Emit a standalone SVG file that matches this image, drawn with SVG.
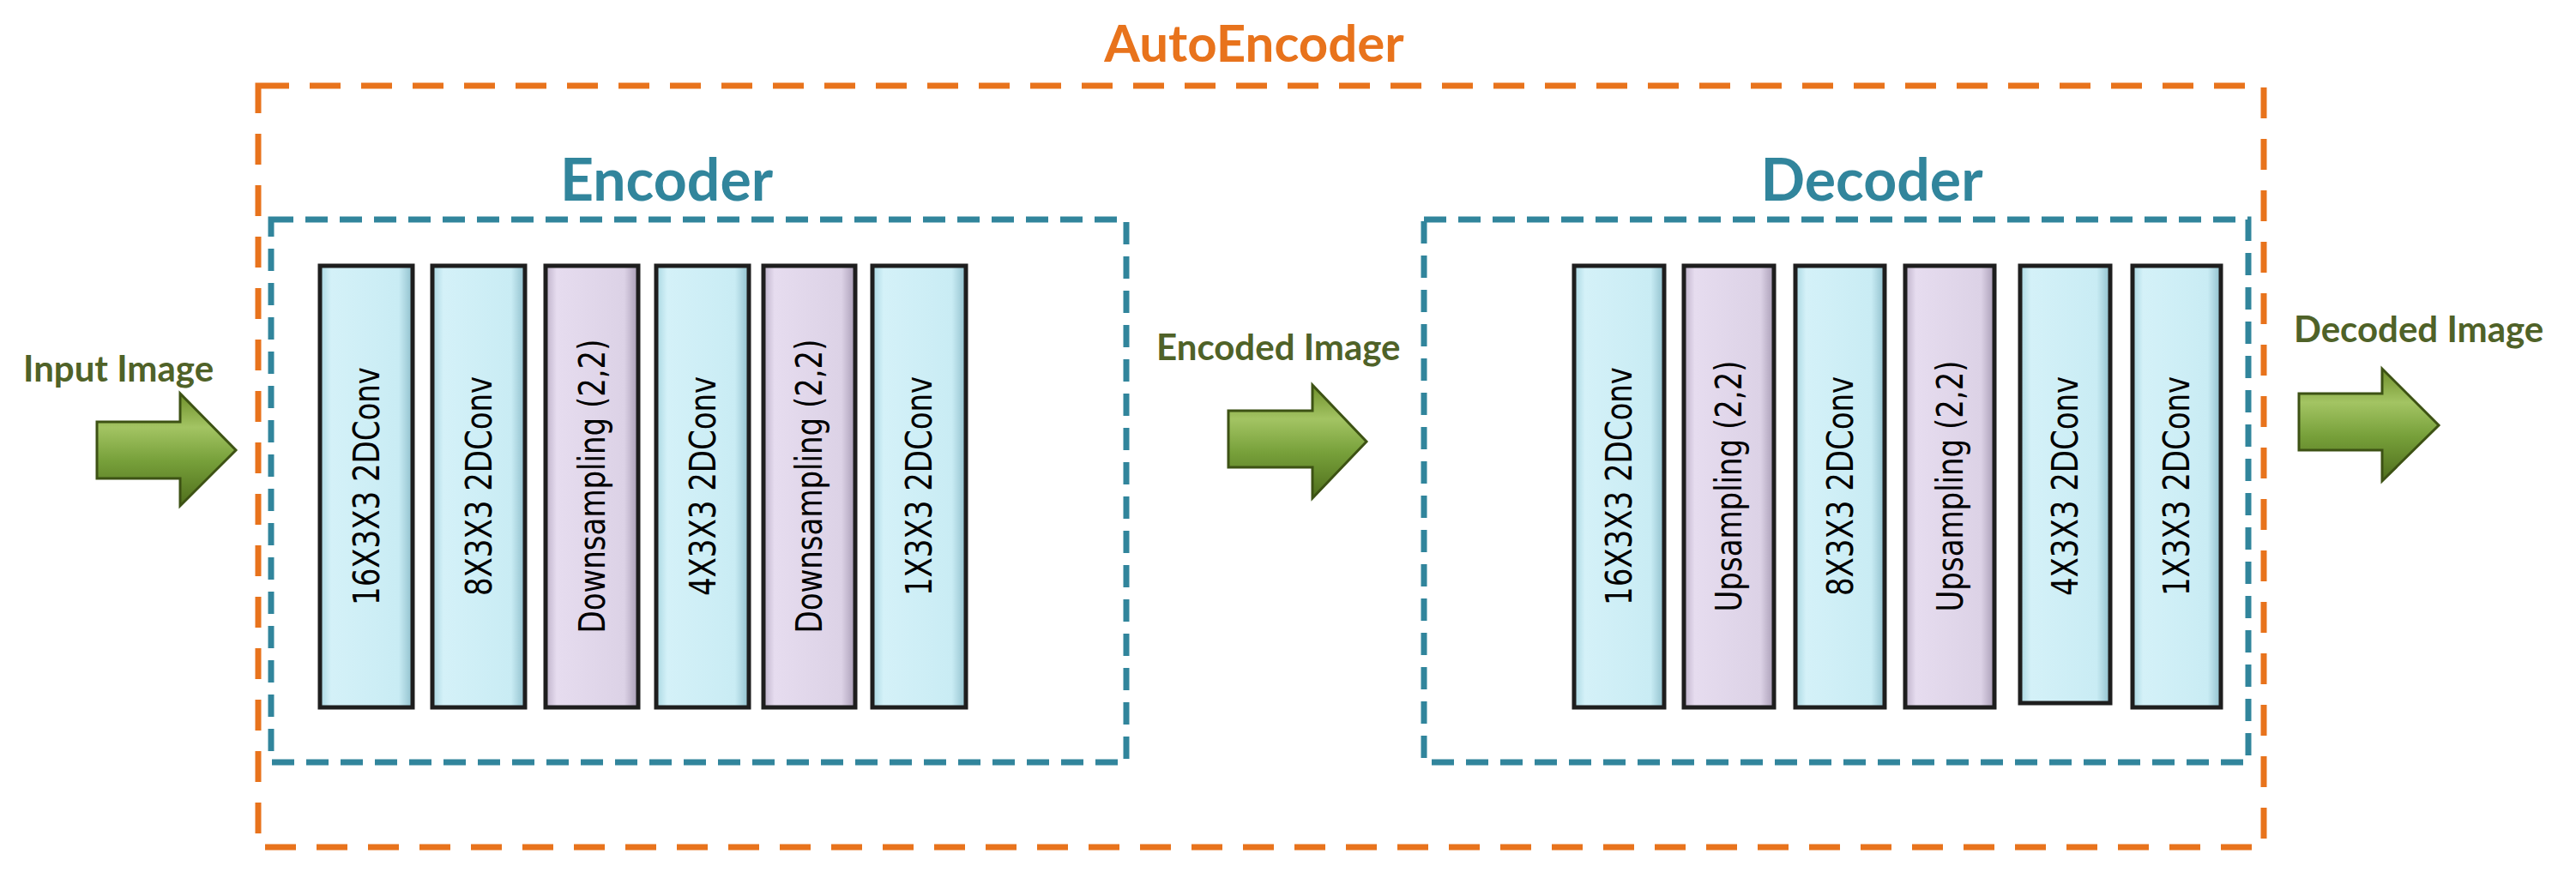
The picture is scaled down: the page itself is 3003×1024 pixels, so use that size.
<svg xmlns="http://www.w3.org/2000/svg" width="3003" height="1024" viewBox="0 0 3003 1024">
<defs>
<linearGradient id="gb" x1="0" x2="1" y1="0" y2="0"><stop offset="0" stop-color="#a9d7e2"/><stop offset="0.12" stop-color="#d4f1f8"/><stop offset="0.85" stop-color="#c9ecf4"/><stop offset="1" stop-color="#8fbfcc"/></linearGradient>
<linearGradient id="gp" x1="0" x2="1" y1="0" y2="0"><stop offset="0" stop-color="#bcb0c8"/><stop offset="0.12" stop-color="#e6dcef"/><stop offset="0.85" stop-color="#dcd2e6"/><stop offset="1" stop-color="#a89cb5"/></linearGradient>
<linearGradient id="ga" x1="0" x2="0" y1="0" y2="1"><stop offset="0" stop-color="#6f8f2a"/><stop offset="0.3" stop-color="#a3c463"/><stop offset="0.6" stop-color="#77a03a"/><stop offset="1" stop-color="#4f6e1c"/></linearGradient>
</defs>
<style>
.bar{stroke:#1e1e1e;stroke-width:5}
.b{fill:url(#gb)}.p{fill:url(#gp)}
.bt{font-family:"DejaVu Sans",sans-serif;font-size:34px;fill:#000;text-anchor:middle;dominant-baseline:central}
.lbl{font-family:Lato,"Open Sans",sans-serif;font-size:42px;fill:#4f6228;font-weight:bold}
.ttl{font-family:Lato,"Open Sans",sans-serif;font-weight:bold;text-anchor:middle}
.arr{fill:url(#ga);stroke:#3d5214;stroke-width:3}
</style>
<rect width="3003" height="1024" fill="#fff"/>
<g id="autoencoder">
<rect x="301" y="100" width="2338" height="888" fill="none" stroke="#e8731c" stroke-width="7" stroke-dasharray="36,24"/>
<text class="ttl" x="1462" y="72" font-size="60" fill="#e8731c">AutoEncoder</text>
</g>
<g id="encoder">
<rect x="316" y="256" width="997" height="633" fill="none" stroke="#31859c" stroke-width="7" stroke-dasharray="26,14"/>
<text class="ttl" x="777" y="234" font-size="68" fill="#31859c">Encoder</text>
<rect class="bar b" x="373" y="310" width="108" height="515"/><text class="bt" transform="translate(427,567) rotate(-90) scale(1,1.25)">16X3X3 2DConv</text>
<rect class="bar b" x="504" y="310" width="108" height="515"/><text class="bt" transform="translate(558,567) rotate(-90) scale(1,1.25)">8X3X3 2DConv</text>
<rect class="bar p" x="636" y="310" width="108" height="515"/><text class="bt" transform="translate(690,567) rotate(-90) scale(1,1.25)">Downsampling (2,2)</text>
<rect class="bar b" x="765" y="310" width="108" height="515"/><text class="bt" transform="translate(819,567) rotate(-90) scale(1,1.25)">4X3X3 2DConv</text>
<rect class="bar p" x="890" y="310" width="107" height="515"/><text class="bt" transform="translate(943,567) rotate(-90) scale(1,1.25)">Downsampling (2,2)</text>
<rect class="bar b" x="1017" y="310" width="109" height="515"/><text class="bt" transform="translate(1071,567) rotate(-90) scale(1,1.25)">1X3X3 2DConv</text>
</g>
<g id="decoder">
<rect x="1660" y="256" width="961" height="633" fill="none" stroke="#31859c" stroke-width="7" stroke-dasharray="26,14"/>
<text class="ttl" x="2182" y="234" font-size="68" fill="#31859c">Decoder</text>
<rect class="bar b" x="1835" y="310" width="105" height="515"/><text class="bt" transform="translate(1887,567) rotate(-90) scale(1,1.25)">16X3X3 2DConv</text>
<rect class="bar p" x="1963" y="310" width="105" height="515"/><text class="bt" transform="translate(2015,567) rotate(-90) scale(1,1.25)">Upsampling (2,2)</text>
<rect class="bar b" x="2093" y="310" width="104" height="515"/><text class="bt" transform="translate(2145,567) rotate(-90) scale(1,1.25)">8X3X3 2DConv</text>
<rect class="bar p" x="2221" y="310" width="104" height="515"/><text class="bt" transform="translate(2273,567) rotate(-90) scale(1,1.25)">Upsampling (2,2)</text>
<rect class="bar b" x="2355" y="310" width="105" height="510"/><text class="bt" transform="translate(2407,567) rotate(-90) scale(1,1.25)">4X3X3 2DConv</text>
<rect class="bar b" x="2486" y="310" width="103" height="515"/><text class="bt" transform="translate(2537,567) rotate(-90) scale(1,1.25)">1X3X3 2DConv</text>
</g>
<g id="connectors">
<text class="lbl" x="27" y="445">Input Image</text>
<polygon class="arr" points="113,492 210,492 210,459 275,525 210,590 210,558 113,558"/>
<text class="lbl" x="1348" y="420">Encoded Image</text>
<polygon class="arr" points="1432,479 1530,479 1530,449 1593,515 1530,581 1530,545 1432,545"/>
<text class="lbl" x="2674" y="399">Decoded Image</text>
<polygon class="arr" points="2680,459 2777,459 2777,430 2843,496 2777,561 2777,525 2680,525"/>
</g>
</svg>
